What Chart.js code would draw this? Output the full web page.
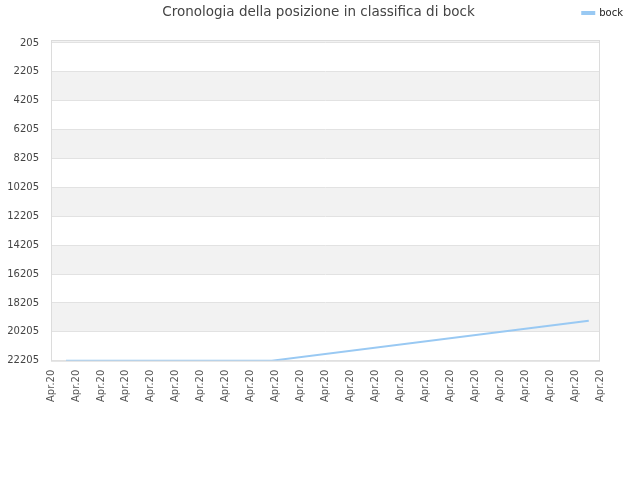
<!DOCTYPE html>
<html lang="it">
<head>
    <meta charset="UTF-8">
    <title>Cronologia della posizione in classifica di bock</title>
    <script src="https://cdn.jsdelivr.net/npm/chart.js"></script>
    <style>
        html, body { margin: 0; padding: 0; background: #fff; }
        #wrap { width: 640px; height: 480px; }
    </style>
</head>
<body>
    <div id="wrap"><canvas id="rankChart" width="640" height="480"></canvas></div>

    <script>
        // etichette dell'asse x (tutte uguali nell'originale)
        const xLabels = ['Apr.20', 'Apr.20', 'Apr.20', 'Apr.20', 'Apr.20', 'Apr.20', 'Apr.20', 'Apr.20',
            'Apr.20', 'Apr.20', 'Apr.20', 'Apr.20', 'Apr.20', 'Apr.20', 'Apr.20', 'Apr.20',
            'Apr.20', 'Apr.20', 'Apr.20', 'Apr.20', 'Apr.20', 'Apr.20', 'Apr.20'];

        // tacche dell'asse y (posizione in classifica)
        const yTicks = [205, 2205, 4205, 6205, 8205, 10205, 12205, 14205, 16205, 18205, 20205, 22205];

        // serie "bock": posizione sull'asse x e posizione in classifica
        const bockX = [0.6, 8.85, 21.55];
        const bockRank = [22205, 22205, 19440];

        const titleText = 'Cronologia della posizione in classifica di bock';
        const fontFamily = '"DejaVu Sans", Verdana, sans-serif';

        // fasce alternate grigie + cornice dell'area del grafico + titolo
        const bandsPlugin = {
            id: 'bands',
            beforeDraw(chart) {
                const { ctx, chartArea, scales } = chart;
                const y = scales.y;
                ctx.save();
                ctx.fillStyle = '#f2f2f2';
                ctx.fillRect(chartArea.left, chartArea.top, chartArea.width, y.getPixelForValue(yTicks[0]) - chartArea.top);
                for (let i = 1; i < yTicks.length - 1; i += 2) {
                    const top = y.getPixelForValue(yTicks[i]);
                    const bottom = y.getPixelForValue(yTicks[i + 1]);
                    ctx.fillRect(chartArea.left, top, chartArea.width, bottom - top);
                }
                ctx.restore();
            },
            afterDraw(chart) {
                const { ctx, chartArea } = chart;
                ctx.save();
                ctx.strokeStyle = '#dcdcdc';
                ctx.lineWidth = 1;
                ctx.strokeRect(chartArea.left + 0.5, chartArea.top + 0.5, chartArea.width - 1, chartArea.height);
                ctx.fillStyle = '#444';
                ctx.font = '13.5px ' + fontFamily;
                ctx.textAlign = 'center';
                ctx.textBaseline = 'middle';
                ctx.fillText(titleText, 318.5, 12);
                ctx.restore();
            }
        };

        const ctx = document.getElementById('rankChart').getContext('2d');
        const rankChart = new Chart(ctx, {
            type: 'line',
            data: {
                datasets: [{
                    label: 'bock',
                    xAxisID: 'x',
                    yAxisID: 'y',
                    data: bockX.map((x, i) => ({ x: x, y: bockRank[i] })),
                    borderColor: '#99c9f3',
                    backgroundColor: '#99c9f3',
                    borderWidth: 2,
                    pointRadius: 0,
                    tension: 0,
                    fill: false
                }]
            },
            options: {
                responsive: false,
                animation: false,
                layout: {
                    padding: { top: 0, right: 9, bottom: 69, left: 7 }
                },
                plugins: {
                    title: { display: false },
                    tooltip: { enabled: false },
                    legend: {
                        display: true,
                        position: 'top',
                        align: 'end',
                        labels: {
                            boxWidth: 12,
                            boxHeight: 2,
                            color: '#222',
                            font: { family: fontFamily, size: 10 },
                            padding: 8
                        }
                    }
                },
                scales: {
                    x: {
                        type: 'linear',
                        position: 'bottom',
                        min: 0,
                        max: xLabels.length - 1,
                        afterBuildTicks(axis) {
                            axis.ticks = xLabels.map((l, i) => ({ value: i }));
                        },
                        ticks: {
                            autoSkip: false,
                            minRotation: 90,
                            maxRotation: 90,
                            padding: 9,
                            color: '#555',
                            font: { family: fontFamily, size: 10 },
                            callback: (v, i) => xLabels[i]
                        },
                        grid: { display: false, drawTicks: false },
                        border: { display: false }
                    },
                    y: {
                        type: 'linear',
                        position: 'left',
                        reverse: true,
                        min: 0,
                        max: 22205,
                        afterBuildTicks(axis) {
                            axis.ticks = yTicks.map(v => ({ value: v }));
                        },
                        afterFit(axis) { axis.width = 44; },
                        ticks: {
                            color: '#444',
                            padding: 12,
                            font: { family: fontFamily, size: 10 },
                            callback: v => String(v)
                        },
                        grid: { color: '#e2e2e2', drawTicks: false },
                        border: { display: false }
                    },
                    // spazio vuoto sopra e a destra dell'area del grafico
                    xTop: {
                        type: 'linear',
                        position: 'top',
                        ticks: { display: false },
                        grid: { display: false, drawTicks: false },
                        border: { display: false },
                        afterFit(axis) { axis.height = 12; }
                    },
                    yRight: {
                        type: 'linear',
                        position: 'right',
                        ticks: { display: false },
                        grid: { display: false, drawTicks: false },
                        border: { display: false },
                        afterFit(axis) { axis.width = 31; }
                    }
                }
            },
            plugins: [bandsPlugin]
        });
    </script>
</body>
</html>
